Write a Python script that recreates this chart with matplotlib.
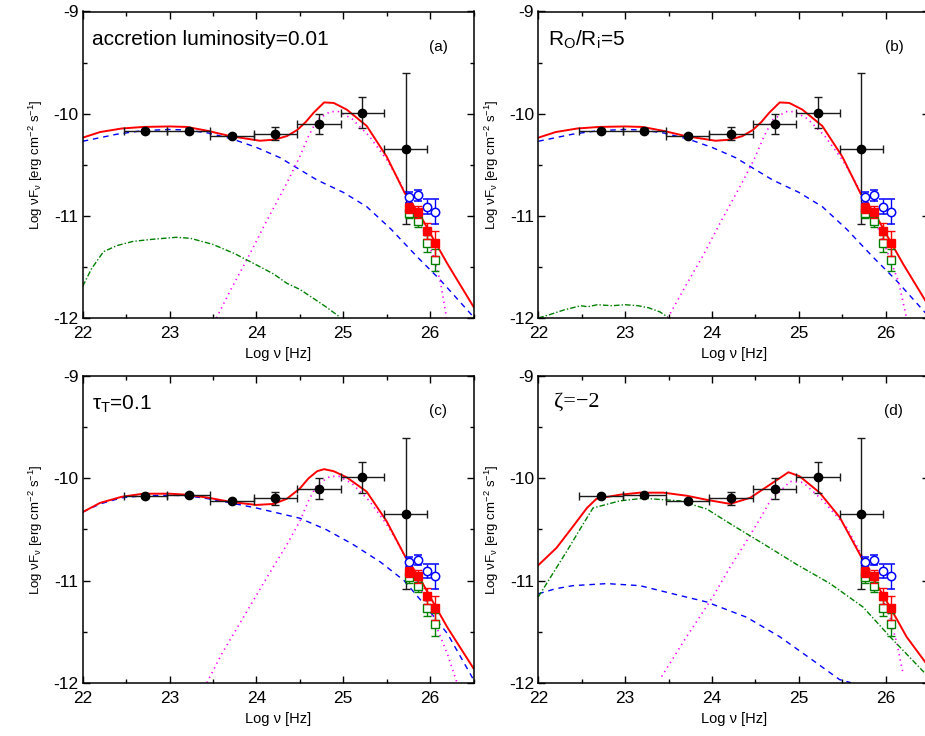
import matplotlib
matplotlib.use("Agg")
import matplotlib.pyplot as plt
from matplotlib.ticker import MultipleLocator

plt.rcParams['font.family'] = ['Liberation Sans', 'DejaVu Sans']
plt.rcParams['axes.unicode_minus'] = False
plt.rcParams['mathtext.fontset'] = 'custom'
plt.rcParams['mathtext.rm'] = 'Liberation Sans'
plt.rcParams['mathtext.it'] = 'Liberation Sans'

# ---------------- observed data (shared) ----------------
obs_x = [22.72, 23.22, 23.72, 24.22, 24.72, 25.22, 25.72]
obs_y = [-10.17, -10.165, -10.22, -10.195, -10.10, -9.99, -10.35]
obs_xerr = [0.25, 0.25, 0.25, 0.25, 0.25, 0.25, 0.25]
obs_yerr_lo = [0.02, 0.02, 0.02, 0.065, 0.10, 0.15, 0.73]
obs_yerr_hi = [0.02, 0.02, 0.02, 0.065, 0.10, 0.15, 0.75]

tev_x = [25.76, 25.86, 25.97, 26.06]
tev_blue_y = [-10.82, -10.80, -10.91, -10.96]
tev_blue_err = [0.05, 0.05, 0.07, 0.12]
tev_red_y = [-10.92, -10.96, -11.15, -11.27]
tev_red_err = [0.05, 0.06, 0.08, 0.12]
tev_green_y = [-10.97, -11.05, -11.27, -11.43]
tev_green_err = [0.05, 0.06, 0.08, 0.11]

# ---------------- model curves ----------------
# panel (a)
a_tot_x = [22.0, 22.2, 22.45, 22.7, 23.0, 23.2, 23.45, 23.7, 24.04, 24.2, 24.35, 24.47, 24.57, 24.66, 24.78, 24.89, 25.04, 25.27, 25.5, 25.71, 25.89, 26.04, 26.2, 26.5]
a_tot_y = [-10.235, -10.18, -10.145, -10.13, -10.125, -10.13, -10.17, -10.22, -10.265, -10.255, -10.22, -10.16, -10.08, -9.99, -9.89, -9.895, -9.96, -10.12, -10.42, -10.78, -11.0, -11.23, -11.47, -11.89]
a_ssc_x = [22.0, 22.4, 22.7, 23.0, 23.2, 23.45, 23.73, 24.0, 24.27, 24.7, 25.0, 25.27, 25.55, 25.85, 26.12, 26.5]
a_ssc_y = [-10.27, -10.2, -10.165, -10.155, -10.16, -10.19, -10.25, -10.33, -10.43, -10.65, -10.77, -10.91, -11.13, -11.40, -11.63, -11.99]
a_ec_x = [23.54, 23.7, 23.89, 24.1, 24.35, 24.5, 24.6, 24.7, 24.85, 24.95, 25.1, 25.3, 25.5, 25.62, 25.75, 25.89, 26.04, 26.12, 26.19]
a_ec_y = [-12.0, -11.73, -11.43, -11.08, -10.68, -10.42, -10.22, -10.06, -9.98, -9.98, -10.05, -10.22, -10.45, -10.62, -10.83, -11.07, -11.40, -11.65, -12.0]
a_disk_x = [22.0, 22.1, 22.24, 22.4, 22.58, 22.8, 23.08, 23.24, 23.5, 23.75, 24.0, 24.2, 24.35, 24.5, 24.66, 24.8, 24.96]
a_disk_y = [-11.69, -11.52, -11.35, -11.29, -11.25, -11.23, -11.21, -11.22, -11.28, -11.37, -11.48, -11.57, -11.66, -11.72, -11.81, -11.89, -11.99]

# panel (b)
b_tot_x = a_tot_x
b_tot_y = a_tot_y
b_ssc_x = a_ssc_x
b_ssc_y = a_ssc_y
b_ec_x = [23.49, 23.7, 23.89, 24.1, 24.35, 24.5, 24.6, 24.7, 24.85, 24.95, 25.1, 25.3, 25.5, 25.62, 25.75, 25.89, 26.04, 26.15, 26.24]
b_ec_y = [-12.0, -11.68, -11.40, -11.06, -10.67, -10.42, -10.22, -10.06, -9.98, -9.98, -10.05, -10.22, -10.45, -10.62, -10.83, -11.07, -11.40, -11.65, -12.0]
b_disk_x = [22.0, 22.12, 22.3, 22.49, 22.57, 22.68, 22.85, 23.0, 23.15, 23.27, 23.4, 23.49]
b_disk_y = [-12.0, -11.97, -11.92, -11.88, -11.89, -11.87, -11.88, -11.87, -11.88, -11.90, -11.94, -11.99]

# panel (c)
c_tot_x = [22.0, 22.2, 22.45, 22.7, 23.0, 23.2, 23.45, 23.7, 24.0, 24.2, 24.35, 24.5, 24.6, 24.7, 24.78, 24.89, 25.04, 25.27, 25.5, 25.71, 25.89, 26.04, 26.2, 26.5]
c_tot_y = [-10.33, -10.24, -10.18, -10.15, -10.15, -10.16, -10.19, -10.23, -10.26, -10.25, -10.2, -10.1, -10.0, -9.93, -9.91, -9.93, -9.99, -10.13, -10.42, -10.76, -10.99, -11.22, -11.46, -11.86]
c_ssc_x = [22.0, 22.2, 22.45, 22.7, 23.0, 23.2, 23.45, 23.7, 24.0, 24.25, 24.5, 24.8, 25.1, 25.43, 25.7, 25.9, 26.2, 26.5]
c_ssc_y = [-10.33, -10.25, -10.19, -10.17, -10.165, -10.17, -10.2, -10.24, -10.29, -10.34, -10.39, -10.5, -10.64, -10.82, -11.0, -11.2, -11.52, -11.97]
c_ec_x = [23.43, 23.6, 23.85, 24.1, 24.35, 24.5, 24.6, 24.7, 24.85, 24.95, 25.1, 25.3, 25.5, 25.62, 25.75, 25.89, 26.04, 26.2, 26.31]
c_ec_y = [-12.0, -11.72, -11.36, -11.0, -10.65, -10.42, -10.22, -10.06, -9.98, -9.98, -10.05, -10.22, -10.45, -10.62, -10.83, -11.07, -11.38, -11.72, -12.0]

# panel (d)
d_tot_x = [22.0, 22.21, 22.4, 22.56, 22.67, 22.94, 23.17, 23.44, 23.71, 23.94, 24.21, 24.44, 24.67, 24.88, 25.01, 25.24, 25.47, 25.7, 25.85, 26.05, 26.24, 26.5]
d_tot_y = [-10.85, -10.68, -10.47, -10.29, -10.20, -10.16, -10.14, -10.14, -10.17, -10.21, -10.25, -10.19, -10.06, -9.94, -9.98, -10.14, -10.38, -10.74, -10.97, -11.26, -11.55, -11.85]
d_ssc_x = [22.0, 22.2, 22.4, 22.79, 23.17, 23.55, 23.94, 24.4, 24.78, 25.16, 25.47, 25.6]
d_ssc_y = [-11.13, -11.08, -11.05, -11.03, -11.05, -11.13, -11.21, -11.36, -11.55, -11.78, -11.97, -12.0]
d_ec_x = [23.42, 23.7, 24.01, 24.2, 24.4, 24.55, 24.67, 24.9, 25.05, 25.28, 25.55, 25.82, 26.05, 26.13, 26.2]
d_ec_y = [-11.94, -11.56, -11.16, -10.88, -10.61, -10.4, -10.22, -10.03, -10.04, -10.22, -10.48, -10.90, -11.36, -11.62, -11.91]
d_disk_x = [22.0, 22.33, 22.5, 22.63, 22.94, 23.21, 23.63, 23.94, 24.24, 24.59, 24.97, 25.36, 25.74, 26.05, 26.5]
d_disk_y = [-11.16, -10.71, -10.47, -10.29, -10.22, -10.195, -10.22, -10.30, -10.46, -10.64, -10.84, -11.03, -11.26, -11.55, -11.95]

panels = [
    dict(tot=(a_tot_x, a_tot_y), ssc=(a_ssc_x, a_ssc_y), ec=(a_ec_x, a_ec_y), disk=(a_disk_x, a_disk_y),
         title="accretion luminosity=0.01", tag="(a)", serif=False),
    dict(tot=(b_tot_x, b_tot_y), ssc=(b_ssc_x, b_ssc_y), ec=(b_ec_x, b_ec_y), disk=(b_disk_x, b_disk_y),
         title=r"R$_\mathregular{O}$/R$_\mathregular{i}$=5", tag="(b)", serif=False),
    dict(tot=(c_tot_x, c_tot_y), ssc=(c_ssc_x, c_ssc_y), ec=(c_ec_x, c_ec_y), disk=None,
         title=r"$\tau_\mathregular{T}$=0.1", tag="(c)", serif=False),
    dict(tot=(d_tot_x, d_tot_y), ssc=(d_ssc_x, d_ssc_y), ec=(d_ec_x, d_ec_y), disk=(d_disk_x, d_disk_y),
         title="\u03b6=\u22122", tag="(d)", serif=True),
]

W, H = 925, 736
fig = plt.figure(figsize=(W / 100, H / 100), dpi=100)

ax_w = 390.8 / W
ax_h = 306.5 / H
lefts = [82.7 / W, 538.3 / W]
bottoms = [1 - 318.0 / H, 1 - 682.7 / H]

positions = [(lefts[0], bottoms[0]), (lefts[1], bottoms[0]), (lefts[0], bottoms[1]), (lefts[1], bottoms[1])]

for p, (l, b) in zip(panels, positions):
    ax = fig.add_axes([l, b, ax_w, ax_h])
    ax.set_xlim(22, 26.5)
    ax.set_ylim(-12, -9)
    ax.xaxis.set_major_locator(MultipleLocator(1))
    ax.xaxis.set_minor_locator(MultipleLocator(0.5))
    ax.yaxis.set_major_locator(MultipleLocator(1))
    ax.yaxis.set_minor_locator(MultipleLocator(0.5))
    ax.tick_params(which='both', direction='in', top=True, right=True, width=1.0, labelsize=12.5)
    ax.tick_params(which='major', length=5)
    ax.tick_params(which='minor', length=3)
    ax.tick_params(axis='x', pad=6)
    ax.tick_params(axis='y', pad=3)
    for s in ax.spines.values():
        s.set_linewidth(1.1)

    # curves
    ax.plot(*p['ssc'], color='#0000ff', lw=1.0, dashes=(4, 3.5))
    ax.plot(*p['ec'], color='#ff00ff', lw=1.2, dashes=(0.8, 2.4))
    if p['disk'] is not None:
        ax.plot(*p['disk'], color='#008000', lw=1.0, dashes=(4, 1.5, 1, 1.5))
    ax.plot(*p['tot'], color='#ff0000', lw=1.4)

    # data
    ax.errorbar(obs_x, obs_y, xerr=obs_xerr, yerr=[obs_yerr_lo, obs_yerr_hi], fmt='o', color='black',
                ecolor='#1a1a1a', elinewidth=1.0, capsize=3, capthick=1.0, markersize=6, zorder=5)
    ax.errorbar(tev_x, tev_blue_y, yerr=tev_blue_err, fmt='o', mfc='white', mec='#0000ff', mew=1.1,
                ecolor='#0000ff', elinewidth=1.0, capsize=3, capthick=1.0, markersize=6, zorder=5)
    ax.errorbar(tev_x, tev_red_y, yerr=tev_red_err, fmt='s', color='#ff0000',
                ecolor='#ff0000', elinewidth=1.0, capsize=3, capthick=1.0, markersize=6, zorder=6)
    ax.errorbar(tev_x, tev_green_y, yerr=tev_green_err, fmt='s', mfc='white', mec='#008000', mew=1.0,
                ecolor='#008000', elinewidth=1.0, capsize=3, capthick=1.0, markersize=5.5, zorder=5)

    ax.set_xlabel("Log \u03bd [Hz]", fontsize=10.5, labelpad=4)
    ax.set_ylabel(r"Log $\mathregular{\nu F_{\nu}}$ [erg cm$^{\mathregular{-2}}$ s$^{\mathregular{-1}}$]", fontsize=9.5, labelpad=6)

    if p['serif']:
        ax.text(0.04, 0.915, p['title'], transform=ax.transAxes, fontsize=16,
                family=['Liberation Serif', 'DejaVu Serif'], va='center', ha='left')
    else:
        ax.text(0.025, 0.908, p['title'], transform=ax.transAxes, fontsize=15, va='center', ha='left')
    ax.text(0.91, 0.885, p['tag'], transform=ax.transAxes, fontsize=11, va='center', ha='center')

fig.savefig("out.png", dpi=100)
